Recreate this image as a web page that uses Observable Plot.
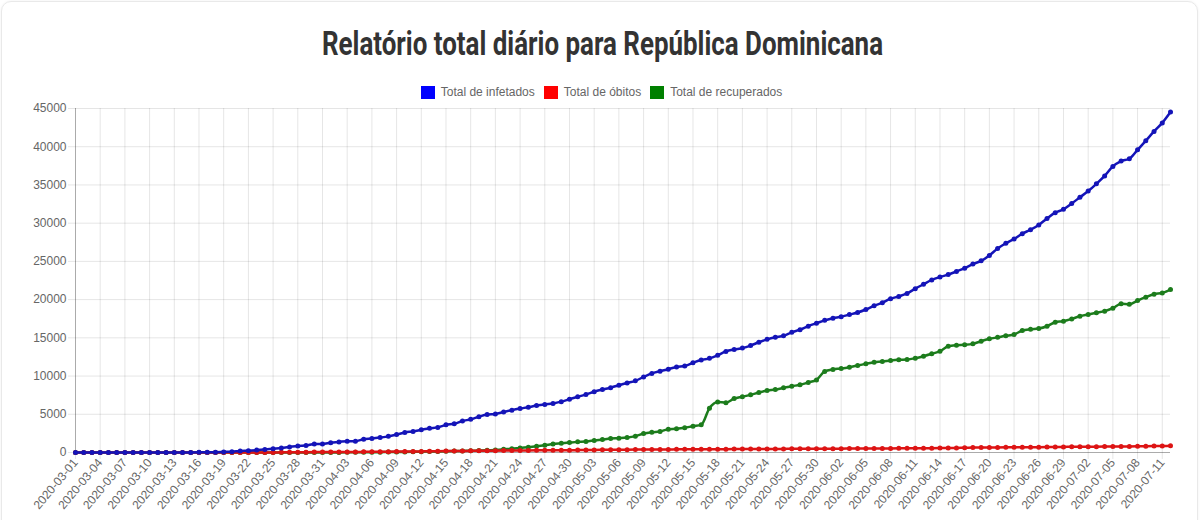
<!DOCTYPE html>
<html>
<head>
<meta charset="utf-8">
<script src="https://cdn.jsdelivr.net/npm/d3@7"></script>
<script src="https://cdn.jsdelivr.net/npm/@observablehq/plot@0.6"></script>
<style>
  html, body { margin: 0; padding: 0; background: #fff; }
  body { width: 1201px; height: 520px; position: relative; overflow: hidden; font-family: "Liberation Sans", Arial, sans-serif; }
  #card { position: absolute; left: 1px; top: 1px; width: 1195px; height: 560px; border: 1px solid #e9e9e9; border-radius: 10px; box-shadow: 0 0 3px rgba(0,0,0,0.06); }
  #title { position: absolute; left: 0; top: 0; }
  #legend { position: absolute; left: 0; top: 86px; width: 1203px; display: flex; justify-content: center; align-items: center; font-size: 12px; color: #666; line-height: 13px; }
  .item { display: flex; align-items: center; margin: 0 4.5px; }
  .sw { width: 14px; height: 13px; margin-right: 6px; }
  #chart { position: absolute; left: 0; top: 100px; }
</style>
</head>
<body>
<div id="card"></div>
<svg id="title" width="1201" height="80">
  <text x="602.5" y="55" text-anchor="middle" textLength="561" lengthAdjust="spacingAndGlyphs"
        style="font-family: Roboto, 'DejaVu Sans', sans-serif; font-weight: 700; font-size: 33px; fill: #333;">Relatório total diário para República Dominicana</text>
</svg>
<div id="legend"></div>
<div id="chart"></div>
<script>
// Daily totals, 2020-03-01 .. 2020-07-12
const firstDay = "2020-03-01";
const lastDay = "2020-07-12";

const infetados = [
  1, 1, 1, 1, 1, 1, 2, 5, 5, 5, 5, 5, 5, 11, 11, 21, 21, 34, 72, 112,
  202, 245, 312, 392, 488, 581, 719, 859, 901, 1109, 1109, 1284, 1380, 1488, 1488, 1745, 1828, 1956, 2111, 2349,
  2620, 2759, 2967, 3167, 3286, 3614, 3755, 4126, 4335, 4680, 4964, 5044, 5300, 5543, 5749, 5926, 6135, 6293, 6416, 6652,
  6972, 7288, 7578, 7954, 8235, 8480, 8807, 9095, 9376, 9882, 10347, 10634, 10900, 11196, 11320, 11739, 12110, 12314, 12725, 13223,
  13477, 13657, 13989, 14422, 14801, 15073, 15264, 15723, 16068, 16531, 16908, 17285, 17572, 17752, 18040, 18319, 18708, 19195, 19600, 20126,
  20415, 20808, 21437, 22008, 22572, 22962, 23271, 23686, 24105, 24645, 25068, 25778, 26677, 27370, 27936, 28631, 29141, 29763, 30619, 31373,
  31816, 32568, 33387, 34197, 35148, 36184, 37425, 38126, 38430, 39588, 40790, 42001, 43114, 44532
];

const obitos = [
  0, 0, 0, 0, 0, 0, 0, 0, 0, 0, 0, 0, 0, 0, 0, 0, 1, 2, 2, 3,
  3, 6, 6, 6, 10, 20, 28, 39, 42, 51, 51, 57, 60, 68, 68, 82, 86, 98, 108, 118,
  126, 135, 146, 173, 177, 183, 196, 200, 217, 226, 235, 245, 253, 260, 265, 273, 282, 286, 293, 301,
  301, 313, 326, 333, 346, 354, 362, 373, 380, 385, 388, 391, 398, 409, 415, 424, 428, 434, 434, 441,
  446, 448, 456, 458, 460, 468, 474, 477, 485, 488, 495, 498, 502, 502, 516, 523, 526, 530, 535, 537,
  544, 552, 555, 562, 572, 581, 589, 599, 618, 640, 651, 660, 665, 676, 681, 688, 692, 698, 712, 726,
  733, 741, 746, 751, 760, 772, 788, 794, 801, 818, 828, 839, 852, 872
];

const recuperados = [
  0, 0, 0, 0, 0, 0, 0, 0, 0, 0, 0, 0, 0, 0, 0, 0, 0, 0, 0, 0,
  0, 0, 0, 1, 3, 3, 3, 3, 3, 3, 3, 5, 12, 18, 25, 33, 40, 48, 58, 68,
  79, 95, 110, 127, 145, 164, 185, 206, 230, 250, 280, 340, 420, 480, 600, 700, 820, 950, 1100, 1200,
  1300, 1390, 1440, 1570, 1700, 1830, 1880, 1960, 2140, 2480, 2660, 2750, 3050, 3100, 3230, 3440, 3620, 5800, 6620, 6520,
  7060, 7300, 7540, 7850, 8110, 8240, 8460, 8680, 8850, 9160, 9500, 10600, 10860, 10990, 11160, 11380, 11600, 11820, 11900, 12030,
  12120, 12160, 12340, 12600, 12910, 13250, 13910, 14040, 14080, 14210, 14560, 14870, 15060, 15260, 15430, 15960, 16130, 16220, 16520, 17050,
  17180, 17480, 17830, 18050, 18270, 18490, 18880, 19450, 19400, 19880, 20320, 20710, 20880, 21320
];

const seriesNames = ["Total de infetados", "Total de óbitos", "Total de recuperados"];
const swatchColors = ["#0000ff", "#ff0000", "#008000"];
const lineColors = ["#1414b8", "#dd1414", "#1c7c1c"];
const yTicks = [0, 5000, 10000, 15000, 20000, 25000, 30000, 35000, 40000, 45000];

// category labels: one per day
const fmt = d3.utcFormat("%Y-%m-%d");
const dates = d3.utcDay.range(new Date(firstDay), d3.utcDay.offset(new Date(lastDay), 1)).map(fmt);
const xTicks = dates.filter((d, i) => i % 3 === 0);

// legend
const legend = document.getElementById("legend");
seriesNames.forEach((name, k) => {
  const item = document.createElement("div");
  item.className = "item";
  item.innerHTML = `<span class="sw" style="background:${swatchColors[k]}"></span><span>${name}</span>`;
  legend.appendChild(item);
});

const values = [infetados, obitos, recuperados];
const rows = values.map(v => dates.map((date, i) => ({date, value: v[i]})));

// draw recovered first, then deaths, infected on top
const seriesMarks = [];
[2, 1, 0].forEach(k => {
  seriesMarks.push(Plot.line(rows[k], {x: "date", y: "value", stroke: lineColors[k], strokeWidth: 2.5, curve: "monotone-x"}));
  seriesMarks.push(Plot.dot(rows[k], {x: "date", y: "value", fill: lineColors[k], r: 2.5}));
});

const chart = Plot.plot({
  width: 1201,
  height: 420,
  marginTop: 8,
  marginLeft: 75,
  marginRight: 31,
  marginBottom: 68,
  style: {fontFamily: "'Liberation Sans', Arial, sans-serif", fontSize: "12px", background: "transparent", overflow: "visible"},
  x: {type: "point", domain: dates, padding: 0},
  y: {domain: [0, 45000]},
  marks: [
    Plot.gridX({ticks: xTicks, stroke: "#000", strokeOpacity: 0.1}),
    Plot.gridY({ticks: yTicks, stroke: "#000", strokeOpacity: 0.1}),
    Plot.axisY({ticks: yTicks, tickFormat: d3.format("d"), tickSize: 7, tickPadding: 2, stroke: "#000", strokeOpacity: 0.1, fill: "#666", label: null}),
    Plot.axisX({ticks: xTicks, tickSize: 7, tickPadding: 1, tickRotate: -50, stroke: "#000", strokeOpacity: 0.1, fill: "#666", label: null}),
    Plot.ruleX([dates[0]], {stroke: "#000", strokeOpacity: 0.25}),
    Plot.ruleY([0], {stroke: "#000", strokeOpacity: 0.25}),
    ...seriesMarks
  ]
});
document.getElementById("chart").appendChild(chart);
</script>
</body>
</html>
